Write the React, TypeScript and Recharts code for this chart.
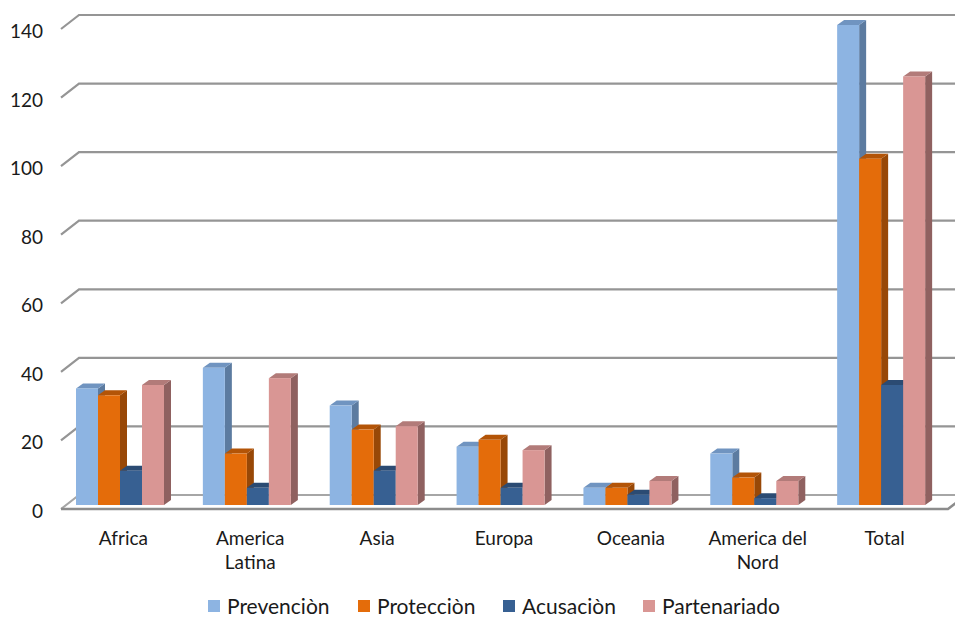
import React from "react";
import { BarChart, Bar, XAxis, YAxis, CartesianGrid } from "recharts";

const categories = ["Africa", "America\nLatina", "Asia", "Europa", "Oceania", "America del\nNord", "Total"];
const prevencion = [34, 40, 29, 17, 5, 15, 140];
const proteccion = [32, 15, 22, 19, 5, 8, 101];
const acusacion = [10, 5, 10, 5, 3, 2, 35];
const partenariado = [35, 37, 23, 16, 7, 7, 125];
const yTicks = [0, 20, 40, 60, 80, 100, 120, 140];
const seriesNames = ["Prevenciòn", "Protecciòn", "Acusaciòn", "Partenariado"];
const seriesKeys = ["prev", "prot", "acus", "part"];

const palette = [
  { front: "#8DB4E2", top: "#7094C0", side: "#5C7BA0" },
  { front: "#E46C0A", top: "#B35407", side: "#984807" },
  { front: "#376092", top: "#2B4B73", side: "#254266" },
  { front: "#D99694", top: "#B27B79", side: "#8F6160" },
];

const data = categories.map((c, i) => ({
  name: c,
  prev: prevencion[i],
  prot: proteccion[i],
  acus: acusacion[i],
  part: partenariado[i],
}));

const FONT = "Lato, 'DejaVu Sans', sans-serif";
const DX = 7;
const DY = 5;

const make3D = (col: { front: string; top: string; side: string }) => (props: any) => {
  const { x, y, width, height } = props;
  if (width == null || height == null) return null;
  const w = width;
  const h = Math.max(height, 0);
  const top = `M${x},${y} L${x + DX},${y - DY} L${x + w + DX},${y - DY} L${x + w},${y} Z`;
  const side = `M${x + w},${y} L${x + w + DX},${y - DY} L${x + w + DX},${y + h - DY} L${x + w},${y + h} Z`;
  return (
    <g>
      <path d={side} fill={col.side} />
      <path d={top} fill={col.top} />
      <rect x={x} y={y} width={w} height={h} fill={col.front} />
    </g>
  );
};

const gridLine = (props: any) => {
  const { y1, x1, index } = props;
  const plotBottom = (props.y ?? 25) + (props.height ?? 480);
  const isFloor = Math.abs(y1 - plotBottom) < 1;
  const left = x1 + 4;
  return (
    <g key={`gl-${index}-${y1}`}>
      <path d={`M${left},${y1 + 4} L${left + 18},${y1 - 10} L955,${y1 - 10}`} fill="none" stroke={isFloor ? "#a6a6a6" : "#959595"} strokeWidth={2.2} />
      {isFloor && (
        <path d={`M${left},${y1 + 4} L948,${y1 + 4} L966,${y1 - 10}`} fill="none" stroke="#8c8c8c" strokeWidth={2.5} />
      )}
    </g>
  );
};

const YTick = (props: any) => {
  const { y, payload } = props;
  return (
    <text x={43} y={y + 13} textAnchor="end" fontFamily={FONT} fontSize={19} fill="#1a1a1a">
      {payload.value}
    </text>
  );
};

const XTick = (props: any) => {
  const { x, y, payload } = props;
  const lines = String(payload.value).split("\n");
  return (
    <text x={x + 3} y={y + 32} textAnchor="middle" fontFamily={FONT} fontSize={19} fill="#1a1a1a">
      {lines.map((l, i) => (
        <tspan key={i} x={x + 3} dy={i === 0 ? 0 : 24}>
          {l}
        </tspan>
      ))}
    </text>
  );
};

const legendLeft = [208, 358, 503, 643];

export default function App() {
  return (
    <div style={{ position: "absolute", left: 0, top: 0, width: 955, height: 617, background: "#fff" }}>
      <BarChart
        width={955}
        height={617}
        data={data}
        margin={{ top: 25, right: 10, left: 0, bottom: 0 }}
        barCategoryGap={19}
        barGap={0}
      >
        <CartesianGrid vertical={false} horizontal={gridLine} />
        <YAxis
          width={57}
          domain={[0, 140]}
          ticks={yTicks}
          axisLine={false}
          tickLine={false}
          tick={<YTick />}
          interval={0}
        />
        <XAxis
          dataKey="name"
          height={112}
          axisLine={false}
          tickLine={false}
          tick={<XTick />}
          interval={0}
        />
        {seriesKeys.map((k, i) => (
          <Bar key={k} dataKey={k} name={seriesNames[i]} fill={palette[i].front} shape={make3D(palette[i])} isAnimationActive={false} />
        ))}
      </BarChart>
      {seriesNames.map((n, i) => (
        <div
          key={n}
          style={{ position: "absolute", left: legendLeft[i], top: 592, width: 150, display: "flex", alignItems: "center", fontFamily: FONT, fontSize: 21, color: "#1a1a1a", whiteSpace: "nowrap", lineHeight: "28px" }}
        >
          <span style={{ display: "inline-block", flex: "0 0 auto", width: 12, height: 12, background: palette[i].front, marginRight: 7 }} />
          <span>{n}</span>
        </div>
      ))}
    </div>
  );
}
